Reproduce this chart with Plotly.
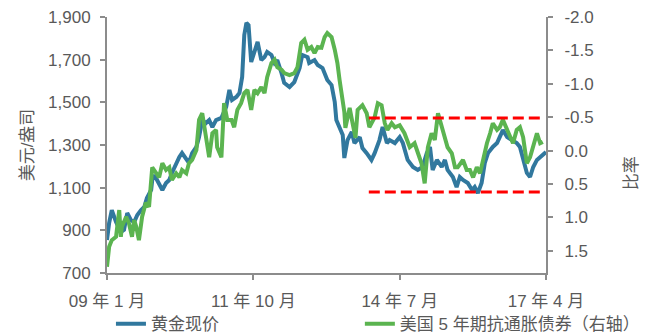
import plotly.graph_objects as go

# ---- data (x = decimal year) ----
gold_t = [2009.00, 2009.04, 2009.09, 2009.17, 2009.26, 2009.32, 2009.38, 2009.45, 2009.51, 2009.57,
          2009.64, 2009.70, 2009.75, 2009.83, 2009.85, 2009.89, 2009.94, 2010.04, 2010.11, 2010.17,
          2010.22, 2010.30, 2010.36, 2010.41, 2010.49, 2010.54, 2010.60, 2010.68, 2010.73, 2010.79,
          2010.86, 2010.92, 2010.98, 2011.05, 2011.15, 2011.24, 2011.30, 2011.35, 2011.43, 2011.49,
          2011.54, 2011.58, 2011.62, 2011.66, 2011.71, 2011.77, 2011.83, 2011.90, 2011.96, 2012.01,
          2012.09, 2012.15, 2012.20, 2012.28, 2012.33, 2012.43, 2012.52, 2012.62, 2012.67, 2012.77,
          2012.80, 2012.90, 2012.96, 2013.05, 2013.14, 2013.22, 2013.28, 2013.31, 2013.37, 2013.43,
          2013.46, 2013.52, 2013.60, 2013.65, 2013.75, 2013.80, 2013.88, 2013.97, 2014.03, 2014.12,
          2014.18, 2014.26, 2014.31, 2014.41, 2014.50, 2014.56, 2014.65, 2014.75, 2014.84, 2014.93,
          2015.01, 2015.07, 2015.12, 2015.20, 2015.29, 2015.35, 2015.40, 2015.50, 2015.57, 2015.63,
          2015.69, 2015.78, 2015.86, 2015.91, 2015.97, 2016.04, 2016.10, 2016.16, 2016.25, 2016.33,
          2016.38, 2016.44, 2016.52, 2016.61, 2016.70, 2016.76, 2016.82, 2016.89, 2016.95, 2017.01,
          2017.08, 2017.14, 2017.19, 2017.25]
gold_price = [855, 934, 995, 939, 892, 902, 981, 948, 939, 972,
              995, 1009, 1052, 1089, 1136, 1159, 1136, 1089, 1122, 1136,
              1169, 1216, 1244, 1262, 1230, 1216, 1262, 1291, 1337, 1417,
              1403, 1417, 1384, 1417, 1427, 1478, 1558, 1511, 1525, 1544,
              1619, 1816, 1872, 1862, 1689, 1745, 1783, 1698, 1712, 1736,
              1722, 1684, 1698, 1637, 1591, 1572, 1595, 1661, 1722, 1712,
              1684, 1698, 1675, 1661, 1605, 1581, 1502, 1417, 1380, 1347,
              1239, 1323, 1361, 1309, 1337, 1286, 1262, 1230, 1262, 1323,
              1384, 1309, 1323, 1309, 1337, 1309, 1230, 1197, 1183, 1197,
              1262, 1291, 1183, 1230, 1197, 1230, 1183, 1150, 1103, 1150,
              1136, 1122, 1089, 1103, 1075, 1122, 1216, 1262, 1291, 1309,
              1337, 1370, 1337, 1323, 1309, 1291, 1230, 1169, 1150, 1197,
              1230, 1244, 1253, 1267]

tips_t = [2009.00, 2009.04, 2009.09, 2009.17, 2009.23, 2009.26, 2009.28, 2009.36, 2009.41, 2009.47,
          2009.51, 2009.55, 2009.60, 2009.66, 2009.73, 2009.79, 2009.85, 2009.92, 2009.98, 2010.04,
          2010.11, 2010.17, 2010.22, 2010.30, 2010.36, 2010.41, 2010.49, 2010.54, 2010.60, 2010.68,
          2010.73, 2010.79, 2010.86, 2010.92, 2010.98, 2011.05, 2011.07, 2011.15, 2011.20, 2011.26,
          2011.34, 2011.39, 2011.45, 2011.52, 2011.58, 2011.64, 2011.71, 2011.77, 2011.83, 2011.90,
          2011.96, 2012.01, 2012.09, 2012.15, 2012.20, 2012.28, 2012.33, 2012.43, 2012.52, 2012.58,
          2012.65, 2012.71, 2012.77, 2012.84, 2012.90, 2012.96, 2013.03, 2013.09, 2013.14, 2013.22,
          2013.28, 2013.33, 2013.37, 2013.43, 2013.46, 2013.48, 2013.56, 2013.61, 2013.67, 2013.71,
          2013.80, 2013.88, 2013.93, 2014.03, 2014.09, 2014.16, 2014.22, 2014.27, 2014.35, 2014.41,
          2014.50, 2014.59, 2014.69, 2014.78, 2014.84, 2014.91, 2014.97, 2015.03, 2015.10, 2015.16,
          2015.22, 2015.29, 2015.35, 2015.40, 2015.48, 2015.54, 2015.59, 2015.69, 2015.76, 2015.82,
          2015.88, 2015.95, 2016.01, 2016.06, 2016.14, 2016.20, 2016.25, 2016.33, 2016.38, 2016.44,
          2016.52, 2016.57, 2016.63, 2016.70, 2016.76, 2016.82, 2016.89, 2016.95, 2017.01, 2017.08,
          2017.14, 2017.19]
tips_yield = [1.74, 1.44, 1.34, 1.29, 0.89, 1.29, 1.14, 0.99, 1.08, 1.29,
              1.04, 1.14, 1.34, 0.99, 0.78, 0.84, 0.25, 0.34, 0.40, 0.19,
              0.29, 0.25, 0.44, 0.34, 0.40, 0.29, 0.34, 0.19, 0.14, -0.01,
              -0.46, -0.56, -0.20, 0.10, -0.26, -0.31, -0.05, 0.10, -0.71, -0.46,
              -0.46, -0.35, -0.61, -0.71, -0.86, -0.91, -0.61, -0.91, -0.86, -0.95,
              -0.86, -1.10, -1.31, -1.36, -1.25, -1.21, -1.16, -1.13, -1.16, -1.25,
              -1.61, -1.66, -1.51, -1.55, -1.46, -1.55, -1.54, -1.70, -1.76, -1.70,
              -1.51, -1.31, -1.06, -0.76, -0.58, -0.34, -0.64, -0.43, -0.19, -0.61,
              -0.68, -0.56, -0.35, -0.50, -0.71, -0.68, -0.41, -0.31, -0.41, -0.35,
              -0.38, -0.26, -0.05, -0.11, 0.04, 0.19, 0.49, -0.05, -0.26, -0.16,
              -0.56, -0.35, -0.16, -0.05, 0.04, 0.25, 0.25, 0.14, 0.29, 0.29,
              0.40, 0.25, 0.34, 0.14, -0.11, -0.26, -0.41, -0.31, -0.35, -0.46,
              -0.31, -0.20, -0.11, -0.31, -0.35, -0.20, 0.19, 0.10, -0.05, -0.26,
              -0.11, -0.13]

band_t = [2013.92, 2017.14]
band_upper = [-0.49, -0.49]
band_lower = [0.62, 0.62]

x_tickvals = [2009.0, 2011.75, 2014.5, 2017.25]
x_ticktext = ["09 年 1 月", "11 年 10 月", "14 年 7 月", "17 年 4 月"]
left_ticks = [700, 900, 1100, 1300, 1500, 1700, 1900]
right_ticks = [-2.0, -1.5, -1.0, -0.5, 0.0, 0.5, 1.0, 1.5]

FONT = "Liberation Sans, Arial, Noto Sans CJK SC, sans-serif"
GREY = "#595959"
AXIS = "#8c8c8c"
BLUE = "#31789E"
GREEN = "#5BB450"
FS = 17

fig = go.Figure()
fig.add_trace(go.Scatter(x=gold_t, y=gold_price, mode="lines", name="黄金现价",
                         line=dict(color=BLUE, width=4), yaxis="y", legend="legend"))
fig.add_trace(go.Scatter(x=tips_t, y=tips_yield, mode="lines", name="美国 5 年期抗通胀债券（右轴）",
                         line=dict(color=GREEN, width=4), yaxis="y2", legend="legend2"))
for lvl in (band_upper, band_lower):
    fig.add_trace(go.Scatter(x=band_t, y=lvl, mode="lines", showlegend=False, hoverinfo="skip",
                             line=dict(color="#FF0000", width=3, dash="11px,5px"), yaxis="y2"))

fig.update_layout(
    width=649, height=336,
    margin=dict(l=107, r=103, t=17, b=63, autoexpand=False),
    paper_bgcolor="white", plot_bgcolor="white",
    font=dict(family=FONT, size=FS, color=GREY),
    xaxis=dict(range=[2009.0, 2017.25], tickvals=x_tickvals, ticktext=x_ticktext,
               showgrid=False, zeroline=False, showline=True, linecolor=AXIS, linewidth=2,
               ticks="outside", ticklen=5, tickwidth=2, tickcolor=AXIS, ticklabelstandoff=7,
               tickfont=dict(size=FS, color=GREY)),
    yaxis=dict(range=[700, 1900], tickvals=left_ticks, tickformat=",d",
               showgrid=False, zeroline=False, showline=True, linecolor=AXIS, linewidth=2,
               ticks="outside", ticklen=5, tickwidth=2, tickcolor=AXIS, ticklabelstandoff=6,
               tickfont=dict(size=FS, color=GREY),
               title=dict(text="美元/盎司", font=dict(size=FS, color=GREY), standoff=10)),
    yaxis2=dict(range=[1.832, -2.0], overlaying="y", side="right",
                tickvals=right_ticks, ticktext=[f"{v:.1f}" for v in right_ticks],
                showgrid=False, zeroline=False, showline=True, linecolor=AXIS, linewidth=2,
                ticks="outside", ticklen=5, tickwidth=2, tickcolor=AXIS, ticklabelstandoff=8,
                tickfont=dict(size=FS, color=GREY)),
    annotations=[dict(text="比率", xref="paper", yref="paper", x=1.1936, y=0.39,
                      xanchor="center", yanchor="middle", textangle=-90, showarrow=False,
                      font=dict(size=FS, color=GREY))],
    legend=dict(orientation="h", x=0.009, xanchor="left", y=-0.2, yanchor="middle",
                font=dict(size=FS, color=GREY), bgcolor="rgba(0,0,0,0)"),
    legend2=dict(orientation="h", x=0.576, xanchor="left", y=-0.2, yanchor="middle",
                 font=dict(size=FS, color=GREY), bgcolor="rgba(0,0,0,0)"),
    showlegend=True,
)

fig.write_html("out.html")
